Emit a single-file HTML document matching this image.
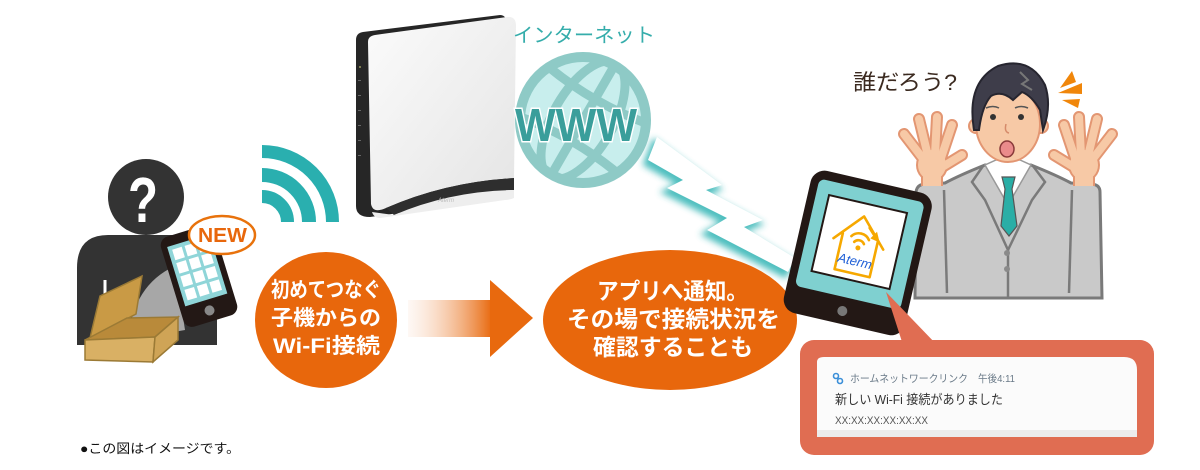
<!DOCTYPE html>
<html><head><meta charset="utf-8"><style>
html,body{margin:0;padding:0;background:#fff;width:1200px;height:470px;overflow:hidden}
svg{display:block}
text{font-family:"Liberation Sans","Noto Sans CJK JP",sans-serif}
</style></head><body>
<svg width="1200" height="470" viewBox="0 0 1200 470" xmlns="http://www.w3.org/2000/svg">
<defs>
<linearGradient id="arr" x1="408" y1="0" x2="492" y2="0" gradientUnits="userSpaceOnUse">
<stop offset="0" stop-color="#fbe8dc" stop-opacity="0.3"/><stop offset="1" stop-color="#e8690e"/></linearGradient>
<linearGradient id="rtr" x1="0" y1="0" x2="1" y2="1">
<stop offset="0" stop-color="#fbfbfb"/><stop offset="1" stop-color="#e4e4e4"/></linearGradient>
<filter id="glow" x="-30%" y="-30%" width="160%" height="160%"><feGaussianBlur stdDeviation="3.5"/></filter>
<clipPath id="gclip"><circle cx="583" cy="120" r="64"/></clipPath>
<g id="hand">
<g stroke="#e39672" stroke-width="12" stroke-linecap="round" fill="none">
<line x1="924" y1="160" x2="904" y2="134"/><line x1="928" y1="156" x2="919" y2="119"/>
<line x1="935" y1="155" x2="937" y2="117"/><line x1="941" y1="158" x2="952" y2="125"/>
<line x1="944" y1="166" x2="962" y2="155"/></g>
<rect x="921" y="168" width="22" height="18" fill="#e39672"/>
<ellipse cx="932" cy="165" rx="16" ry="17" fill="#e39672"/>
<g stroke="#f7c9a6" stroke-width="8" stroke-linecap="round" fill="none">
<line x1="924" y1="160" x2="904" y2="134"/><line x1="928" y1="156" x2="919" y2="119"/>
<line x1="935" y1="155" x2="937" y2="117"/><line x1="941" y1="158" x2="952" y2="125"/>
<line x1="944" y1="166" x2="962" y2="155"/></g>
<rect x="923" y="168" width="18" height="18" fill="#f7c9a6"/>
<ellipse cx="932" cy="165" rx="14" ry="15" fill="#f7c9a6"/>
</g>
</defs>

<!-- Left person -->
<path d="M77,345 L77,268 Q77,235 108,235 L186,235 Q217,235 217,268 L217,345 Z" fill="#333"/>
<line x1="105" y1="280" x2="105" y2="340" stroke="#fff" stroke-width="3"/>
<circle cx="146" cy="197" r="38" fill="#333"/>
<text x="128" y="222" font-size="64" font-weight="bold" fill="#fff" textLength="30" lengthAdjust="spacingAndGlyphs" style="font-family:'Liberation Sans',sans-serif">?</text>
<!-- disc -->
<path d="M128,340 Q133,285 175,266 L185,330 Z" fill="#d8d8d8" opacity="0.7"/>
<!-- box -->
<polygon points="90,338 100,296 142,276 136,314" fill="#c99a45" stroke="#9b7a35" stroke-width="1.5"/>
<polygon points="85,340 127,318 178,317 155,337" fill="#b98a3a" stroke="#9b7a35" stroke-width="1.5"/>
<polygon points="85,340 155,337 153,362 85,360" fill="#d9b064" stroke="#9b7a35" stroke-width="1.5"/>
<polygon points="155,337 178,317 178,340 153,362" fill="#cfa456" stroke="#9b7a35" stroke-width="1.5"/>
<!-- phone -->
<g transform="translate(199,276) rotate(-17)">
<rect x="-28" y="-47" width="56" height="94" rx="9" fill="#231815"/>
<rect x="-22" y="-37" width="44" height="62" fill="#8fd5d8"/>
<g fill="#fff">
<rect x="-18" y="-33" width="10" height="11"/><rect x="-5" y="-33" width="10" height="11"/><rect x="8" y="-33" width="10" height="11"/>
<rect x="-18" y="-19" width="10" height="11"/><rect x="-5" y="-19" width="10" height="11"/><rect x="8" y="-19" width="10" height="11"/>
<rect x="-18" y="-5" width="10" height="11"/><rect x="-5" y="-5" width="10" height="11"/><rect x="8" y="-5" width="10" height="11"/>
<rect x="-18" y="9" width="10" height="11"/><rect x="-5" y="9" width="10" height="11"/><rect x="8" y="9" width="10" height="11"/>
</g>
<circle cx="0" cy="36" r="5" fill="#888"/>
</g>
<ellipse cx="222" cy="235" rx="33" ry="19" fill="#fff" stroke="#e8720c" stroke-width="2.5"/>
<text x="198" y="242" font-size="20" font-weight="bold" fill="#e8670c" textLength="49" lengthAdjust="spacingAndGlyphs">NEW</text>

<!-- wifi arcs -->
<g fill="none" stroke="#2aafaf">
<path d="M262,151.5 A70.5,70.5 0 0 1 332.5,222" stroke-width="13"/>
<path d="M262,175 A47,47 0 0 1 309,222" stroke-width="14"/>
<path d="M262,196.5 A25.5,25.5 0 0 1 287.5,222" stroke-width="13"/>
</g>

<!-- router -->
<path d="M356,40 Q356,33 363,32 L500,15 Q506,15 506,22 L506,198 L370,217 Q356,217 356,206 Z" fill="#262626"/>
<g fill="#9a9a60"><circle cx="360" cy="67" r="1"/></g>
<g fill="#666"><rect x="358" y="80" width="3" height="1"/><rect x="358" y="95" width="3" height="1"/><rect x="358" y="110" width="3" height="1"/><rect x="358" y="125" width="3" height="1"/><rect x="358" y="140" width="3" height="1"/><rect x="358" y="155" width="3" height="1"/></g>
<path d="M368,42 Q368,36 375,35 L507,17 Q516,16 516,26 L514,178 Q445,182 386,208 Q373,214 371,204 Z" fill="url(#rtr)"/>
<path d="M386,208 Q445,182 514,178 L514,190 Q450,191 394,215 Z" fill="#2e2e2e"/>
<path d="M394,215 Q450,191 514,190 L514,198 Q510,200 505,200 L380,218 Q374,218 372,212 Z" fill="#eeeeee"/>
<text x="438" y="202" font-size="6" fill="#bbb" font-style="italic">Aterm</text>

<!-- lightning -->
<g transform="translate(-3,4)" filter="url(#glow)" opacity="0.85">
<polygon points="657,137 722,185 706,190 763,220 744,227 795,258 788,272 707,230 727,218 667,188 683,180 648,160" fill="#2fb3b3" stroke="#2fb3b3" stroke-width="4"/>
</g>
<polygon points="657,137 722,185 706,190 763,220 744,227 795,258 788,272 707,230 727,218 667,188 683,180 648,160" fill="#fff"/>

<!-- globe -->
<circle cx="583" cy="120" r="64" fill="#c8eeed"/>
<g clip-path="url(#gclip)" fill="none" stroke="#8ecac6" stroke-width="9">
<g transform="rotate(30 583 120)">
<ellipse cx="583" cy="120" rx="30" ry="66"/>
<line x1="583" y1="50" x2="583" y2="190"/>
<path d="M510,88 Q583,104 656,88"/>
<path d="M510,152 Q583,136 656,152"/>
</g>
</g>
<circle cx="583" cy="120" r="63" fill="none" stroke="#8ecac6" stroke-width="10"/>
<text x="515" y="141" font-size="46" font-weight="bold" fill="#3a9e9b" stroke="#fff" stroke-width="3" paint-order="stroke" textLength="122" lengthAdjust="spacingAndGlyphs" style="font-family:'Liberation Sans',sans-serif">WWW</text>
<text x="513" y="42" font-size="20" fill="#35adab" textLength="142" lengthAdjust="spacingAndGlyphs">インターネット</text>

<!-- man -->
<text x="853" y="90" font-size="22" fill="#3b2a20" textLength="104" lengthAdjust="spacingAndGlyphs">誰だろう?</text>
<g fill="#f0860a">
<polygon points="1060,88 1072,71 1076,82"/>
<polygon points="1058,93 1082,83 1082,94"/>
<polygon points="1062,100 1080,99 1078,108"/>
</g>
<path d="M915,298 L916,192 Q917,184 926,184 L945,183 Q960,175 985,165 L1031,165 Q1056,175 1071,183 L1090,184 Q1100,184 1100,192 L1102,298 Z" fill="#c9c9c9" stroke="#7a7a7a" stroke-width="3"/>
<g fill="none" stroke="#7a7a7a" stroke-width="2.5">
<path d="M944,190 L947,293"/><path d="M1072,190 L1069,293"/>
<path d="M983,166 L972,182 L985,200 L1008,250"/><path d="M1033,166 L1045,182 L1032,200 L1008,250"/>
<line x1="1008" y1="250" x2="1008" y2="297"/>
</g>
<rect x="996" y="148" width="25" height="20" fill="#f7c9a6"/>
<polygon points="985,165 1008,205 1031,165 1020,160 996,160" fill="#fff" stroke="#999" stroke-width="1.5"/>
<polygon points="1002,177 1015,177 1012,189 1017,226 1009,236 1001,226 1005,189" fill="#2aaea6" stroke="#555" stroke-width="1.2"/>
<circle cx="1007" cy="253" r="3" fill="#8a8a8a"/><circle cx="1007" cy="269" r="3" fill="#8a8a8a"/>
<circle cx="976" cy="126" r="7" fill="#f7c9a6" stroke="#e39672" stroke-width="2"/>
<circle cx="1041" cy="126" r="7" fill="#f7c9a6" stroke="#e39672" stroke-width="2"/>
<ellipse cx="1008" cy="124" rx="32" ry="38" fill="#f7c9a6" stroke="#e39672" stroke-width="2"/>
<path d="M974,130 Q966,82 998,66 Q1030,56 1045,85 Q1052,106 1043,130 L1040,110 Q1032,96 1022,92 L1013,100 Q1002,90 991,96 Q982,106 979,130 Z" fill="#3e3d4a" stroke="#26252f" stroke-width="2"/>
<path d="M1020,72 L1028,80 L1022,84 L1032,90" fill="none" stroke="#777" stroke-width="2"/>
<circle cx="993" cy="117" r="3" fill="#333"/><circle cx="1021" cy="117" r="3" fill="#333"/>
<path d="M986,108 Q993,105 999,108 M1015,108 Q1021,105 1028,108" fill="none" stroke="#555" stroke-width="1.5"/>
<path d="M1006,124 Q1004,132 1009,133" fill="none" stroke="#d58a6a" stroke-width="1.5"/>
<ellipse cx="1007" cy="149" rx="7" ry="8" fill="#ea8b8b" stroke="#8a3a3a" stroke-width="1.5"/>
<use href="#hand"/>
<use href="#hand" transform="translate(2016,0) scale(-1,1)"/>

<!-- arrow -->
<rect x="408" y="300" width="84" height="37" fill="url(#arr)"/>
<polygon points="490,280 533,318 490,357" fill="#e8690e"/>

<!-- orange circles -->
<ellipse cx="326" cy="320" rx="71" ry="68" fill="#e8670c"/>
<g fill="#fff" font-weight="bold" font-size="21" text-anchor="start">
<text x="271" y="297" textLength="110" lengthAdjust="spacingAndGlyphs">初めてつなぐ</text>
<text x="271" y="325" textLength="110" lengthAdjust="spacingAndGlyphs">子機からの</text>
<text x="273" y="353" textLength="107" lengthAdjust="spacingAndGlyphs">Wi-Fi接続</text>
</g>
<ellipse cx="670" cy="320" rx="127" ry="70" fill="#e8670c"/>
<g fill="#fff" font-weight="bold" font-size="23">
<text x="597" y="299" textLength="151" lengthAdjust="spacingAndGlyphs">アプリへ通知。</text>
<text x="567" y="327" textLength="213" lengthAdjust="spacingAndGlyphs">その場で接続状況を</text>
<text x="593" y="355" textLength="160" lengthAdjust="spacingAndGlyphs">確認することも</text>
</g>

<!-- tablet -->
<g transform="translate(858,252) rotate(13)">
<rect x="-62" y="-72" width="124" height="146" rx="14" fill="#231815"/>
<rect x="-54" y="-63" width="108" height="110" rx="6" fill="#7fd0d0"/>
<rect x="-41" y="-49" width="80" height="78" fill="#fff" stroke="#231815" stroke-width="2"/>
<g fill="none" stroke="#f6a800" stroke-width="2.6" stroke-linejoin="round" stroke-linecap="round">
<path d="M-27,-8 L-2,-36 L24,-8"/>
<path d="M-19,-15 L-19,22 L17,22 L17,-15"/>
<path d="M6,-26 L14,-18"/>
<path d="M-10,-14 A11,11 0 0 1 8,-14"/>
<path d="M-6,-9 A6,6 0 0 1 4,-9"/>
</g>
<polygon points="14,-24 19,-14 9,-16" fill="#f6a800"/>
<circle cx="-1" cy="-4" r="2.5" fill="#f6a800"/>
<text x="-1" y="14" font-size="13" font-style="italic" fill="#1f5fd6" text-anchor="middle" style="font-family:'Liberation Sans',sans-serif">Aterm</text>
<circle cx="-2" cy="61" r="5" fill="#777"/>
</g>

<!-- notification -->
<polygon points="886,292 903,345 937,345" fill="#e06d52"/>
<rect x="800" y="340" width="354" height="115" rx="14" fill="#e06d52"/>
<path d="M817,437 L817,362 Q817,357 824,357 L1124,357 Q1137,357 1137,370 L1137,437 Z" fill="#fbfbfb"/>
<rect x="817" y="430" width="320" height="7" fill="#ececec"/>
<g fill="none" stroke="#3b8fd8" stroke-width="1.6"><circle cx="836" cy="376" r="2.5"/><circle cx="840" cy="381" r="2.5"/></g>
<text x="850" y="382" font-size="10.5" fill="#6a7a88" textLength="118" lengthAdjust="spacingAndGlyphs">ホームネットワークリンク</text>
<text x="978" y="382" font-size="10.5" fill="#6a7a88" textLength="37" lengthAdjust="spacingAndGlyphs">午後4:11</text>
<text x="835" y="404" font-size="13" fill="#333" textLength="168" lengthAdjust="spacingAndGlyphs">新しい Wi-Fi 接続がありました</text>
<text x="835" y="424" font-size="11" fill="#555" textLength="93" lengthAdjust="spacingAndGlyphs">XX:XX:XX:XX:XX:XX</text>

<!-- footer -->
<text x="80" y="453" font-size="13" fill="#111" textLength="160" lengthAdjust="spacingAndGlyphs">●この図はイメージです。</text>
</svg>
</body></html>
